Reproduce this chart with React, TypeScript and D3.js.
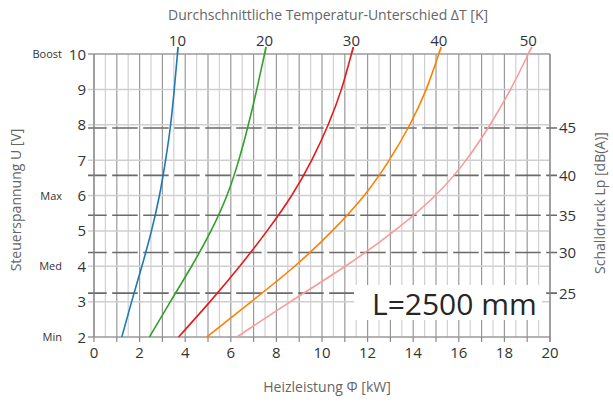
import React from "react";
import * as d3 from "d3";

const voltage = [2, 3, 4, 5, 6, 7, 8, 9, 10];
const dT10 = [1.22, 1.65, 2.1, 2.52, 2.87, 3.14, 3.36, 3.52, 3.66];
const dT20 = [2.43, 3.35, 4.28, 5.13, 5.83, 6.35, 6.77, 7.14, 7.48];
const dT30 = [3.71, 5.09, 6.39, 7.59, 8.67, 9.55, 10.27, 10.85, 11.29];
const dT40 = [4.95, 6.9, 8.8, 10.45, 11.85, 12.95, 13.85, 14.57, 15.12];
const dT50 = [6.27, 8.62, 11.02, 13.17, 14.97, 16.32, 17.37, 18.27, 19.05];
const deltaTLabels = ["10", "20", "30", "40", "50"];
const seriesColors = ["#1f78b4", "#33a02c", "#e31a1c", "#ff7f00", "#fb9a99"];

const xTicks = [0, 2, 4, 6, 8, 10, 12, 14, 16, 18, 20];
const yTicks = [2, 3, 4, 5, 6, 7, 8, 9, 10];
const yNames: Record<number, string> = { 2: "Min", 4: "Med", 6: "Max", 10: "Boost" };
const dbTicks = [25, 30, 35, 40, 45];
const dbVoltage = [3.24, 4.39, 5.44, 6.57, 7.91];

const FONT = "'Open Sans', sans-serif";

export default function App() {
  const x = d3.scaleLinear().domain([0, 20]).range([94, 550]);
  const y = d3.scaleLinear().domain([2, 10]).range([337, 54]);
  const series = [dT10, dT20, dT30, dT40, dT50];
  const line = d3
    .line<[number, number]>()
    .x((d) => x(d[0]))
    .y((d) => y(d[1]))
    .curve(d3.curveNatural);

  const halfSteps = d3.range(0, 20.001, 0.5);

  return (
    <svg width={613} height={405} style={{ position: "absolute", left: 0, top: 0, fontFamily: FONT }}>
      <rect width={613} height={405} fill="#fff" />
      {halfSteps.map((v) => (
        <line
          key={"v" + v}
          x1={x(v)}
          x2={x(v)}
          y1={y(10)}
          y2={y(2)}
          stroke={Number.isInteger(v) ? "#9a9a9a" : "#d0d0d0"}
          strokeWidth={1.2}
        />
      ))}
      {yTicks.map((v) => (
        <line key={"h" + v} x1={88} x2={550} y1={y(v)} y2={y(v)} stroke={v === 10 || v === 2 ? "#9a9a9a" : "#cfcfcf"} strokeWidth={1.5} />
      ))}
      {dbVoltage.map((u, i) => (
        <line
          key={"db" + i}
          x1={88}
          x2={557}
          y1={y(u)}
          y2={y(u)}
          stroke="#6a6a6a"
          strokeWidth={1.6}
          strokeDasharray="25.5 5.5"
          strokeDashoffset={6.8}
        />
      ))}
      <line x1={x(0)} x2={x(0)} y1={y(10)} y2={y(2)} stroke="#888" strokeWidth={1.2} />
      <line x1={x(20)} x2={x(20)} y1={y(10)} y2={y(2) + 5} stroke="#888" strokeWidth={1.2} />
      {d3.range(0, 20.001, 1).map((v) => (
        <line key={"bt" + v} x1={x(v)} x2={x(v)} y1={y(2)} y2={y(2) + 5} stroke="#888" strokeWidth={1.2} />
      ))}
      <rect x={354} y={285} width={188} height={35} fill="#fff" />
      <text x={372} y={315} fontSize={30} fill="#262626">L=2500 mm</text>
      {series.map((s, i) => {
        const pts: [number, number][] = s.map((v, j) => [v, voltage[j]]);
        const top = s[s.length - 1];
        const prev = s[s.length - 2];
        const dx = (x(top) - x(prev)) / (y(voltage[voltage.length - 2]) - y(10));
        return (
          <g key={"s" + i}>
            <path d={line(pts) || ""} fill="none" stroke={seriesColors[i]} strokeWidth={1.6} />
            <line x1={x(top)} x2={x(top) + dx * 7} y1={y(10)} y2={y(10) - 7} stroke={seriesColors[i]} strokeWidth={1.8} />
            <text x={x(top)} y={46} textAnchor="middle" fontSize={15} fill="#333">
              {deltaTLabels[i]}
            </text>
          </g>
        );
      })}
      {yTicks.map((v) => (
        <g key={"yl" + v}>
          <text x={86} y={y(v) + 5.5} textAnchor="end" fontSize={15} fill="#333">
            {v}
          </text>
          {yNames[v] && (
            <text x={62} y={y(v) + 4} textAnchor="end" fontSize={11} fill="#333">
              {yNames[v]}
            </text>
          )}
        </g>
      ))}
      {xTicks.map((v) => (
        <text key={"xl" + v} x={x(v)} y={358} textAnchor="middle" fontSize={15} fill="#333">
          {v}
        </text>
      ))}
      {dbTicks.map((d, i) => (
        <text key={"dbl" + d} x={559} y={y(dbVoltage[i]) + 5.5} fontSize={15} fill="#333">
          {d}
        </text>
      ))}
      <text x={328} y={20} textAnchor="middle" fontSize={14} fill="#666">
        Durchschnittliche Temperatur-Unterschied ΔT [K]
      </text>
      <text x={327} y={392} textAnchor="middle" fontSize={14} fill="#666">
        Heizleistung Φ [kW]
      </text>
      <text transform="translate(21,200) rotate(-90)" textAnchor="middle" fontSize={14} fill="#666">
        Steuerspannung U [V]
      </text>
      <text transform="translate(605,203) rotate(-90)" textAnchor="middle" fontSize={14} fill="#666">
        Schalldruck Lp [dB(A)]
      </text>
    </svg>
  );
}
